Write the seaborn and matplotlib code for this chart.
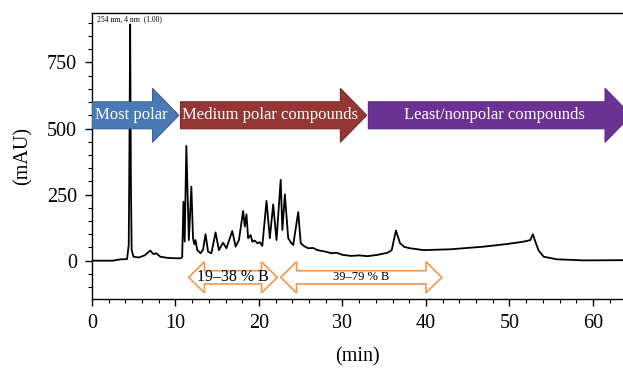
import numpy as np
import pandas as pd
import matplotlib
matplotlib.use('Agg')
import matplotlib.pyplot as plt
import matplotlib.patches as mpatches
from matplotlib.ticker import MultipleLocator
import seaborn as sns

# Chromatogram trace (time in min, absorbance in mAU)
time_min = [0.0, 2.5, 3.4, 4.2, 4.4, 4.48, 4.57, 4.66, 4.75, 4.97, 5.6, 6.3, 6.97, 7.2, 7.37,
            7.7, 8.0, 8.17, 8.97, 10.0, 10.6, 10.8, 10.95, 11.1, 11.3, 11.6, 11.9, 12.1, 12.25,
            12.4, 12.6, 13.0, 13.3, 13.6, 13.9, 14.3, 14.8, 15.2, 15.7, 16.1, 16.8, 17.2, 17.6,
            18.1, 18.3, 18.5, 18.7, 19.0, 19.2, 19.5, 19.8, 20.1, 20.4, 20.9, 21.3, 21.7, 22.1,
            22.6, 22.8, 23.1, 23.5, 23.8, 24.1, 24.7, 25.0, 25.4, 25.9, 26.5, 27.0, 27.5, 28.1,
            28.7, 29.3, 30.0, 31.0, 32.0, 33.0, 34.2, 35.4, 35.9, 36.4, 36.9, 37.4, 38.1, 39.7,
            42.9, 46.9, 49.7, 51.7, 52.5, 52.8, 53.1, 53.5, 54.1, 55.7, 57.5, 58.9, 64.0]
absorb_mau = [0, 0, 5, 6, 60, 400, 894, 300, 40, 15, 12, 20, 38, 30, 25,
              28, 20, 15, 11, 9, 9, 13, 223, 72, 434, 78, 280, 85, 62,
              78, 40, 28, 42, 100, 34, 28, 107, 40, 68, 47, 112, 53, 78,
              188, 129, 175, 85, 97, 72, 76, 66, 70, 56, 226, 85, 213, 78,
              306, 116, 251, 85, 70, 59, 184, 66, 55, 47, 48, 40, 37, 33,
              28, 30, 22, 18, 20, 17, 22, 30, 40, 114, 66, 52, 47, 40,
              43, 53, 63, 72, 78, 100, 72, 38, 15, 5, 3, 1, 2]

# Elution zones (block arrows): label, start, tip, colour
zone_labels = ['Most polar', 'Medium polar compounds', 'Least/nonpolar compounds']
zone_start = [0.0, 10.6, 33.1]
zone_tip = [10.4, 32.9, 64.6]
zone_text_x = [4.65, 21.3, 48.25]
zone_colors = ['#4a7ab5', '#943634', '#6b3294']
zone_edges = ['#3a6396', '#7a2a28', '#572880']

# Gradient ranges (double arrows)
grad_labels = ['19\u201338 % B', '39\u201379 % B']
grad_start = [11.57, 22.6]
grad_end = [22.2, 41.9]

df = pd.DataFrame({'time': time_min, 'mAU': absorb_mau})

plt.rcParams['font.family'] = ['Liberation Serif', 'DejaVu Serif']

fig = plt.figure(figsize=(6.23, 3.68), dpi=100)
ax = fig.add_axes([92 / 623, 69 / 368, 531 / 623, 286 / 368])

sns.lineplot(data=df, x='time', y='mAU', ax=ax, color='black', lw=1.3,
             estimator=None, sort=False)

ax.set_xlim(0, 63.6)
ax.set_ylim(-145, 937)
ax.xaxis.set_major_locator(MultipleLocator(10))
ax.xaxis.set_minor_locator(MultipleLocator(2))
ax.yaxis.set_major_locator(MultipleLocator(250))
ax.yaxis.set_minor_locator(MultipleLocator(50))
ax.tick_params(which='major', length=4.8, width=1, labelsize=14.5, direction='out', pad=6)
ax.tick_params(which='minor', length=3, width=0.8, direction='out')
for s in ['left', 'bottom', 'top']:
    ax.spines[s].set_linewidth(1.0)
ax.spines['right'].set_visible(False)
ax.set_xlabel('(min)', fontsize=14.5, labelpad=10)
ax.set_ylabel('(mAU)', fontsize=14.5, labelpad=10)

ax.text(0.6, 912, '254 nm, 4 nm  (1.00)', fontsize=5.5, va='center', ha='left')

# block arrows for polarity zones
yc = 550
for lab, x0, x1, xt, fc, ec in zip(zone_labels, zone_start, zone_tip, zone_text_x,
                                   zone_colors, zone_edges):
    arr = mpatches.FancyArrow(x0, yc, x1 - x0, 0, width=102, head_width=204,
                              head_length=3.15, length_includes_head=True,
                              fc=fc, ec=ec, lw=0.8, zorder=5)
    ax.add_patch(arr)
    ax.text(xt, yc, lab, color='white', fontsize=12, ha='center', va='center', zorder=6)


def double_arrow(x0, x1, y, body=50, head=118, hl=1.9):
    pts = [(x0, y), (x0 + hl, y + head / 2), (x0 + hl, y + body / 2),
           (x1 - hl, y + body / 2), (x1 - hl, y + head / 2), (x1, y),
           (x1 - hl, y - head / 2), (x1 - hl, y - body / 2), (x0 + hl, y - body / 2),
           (x0 + hl, y - head / 2)]
    return mpatches.Polygon(pts, closed=True, fc='white', ec='#f79646', lw=1.2, zorder=5)


yg = -63
for lab, x0, x1, fs in zip(grad_labels, grad_start, grad_end, [11.5, 9]):
    ax.add_patch(double_arrow(x0, x1, yg))
    ax.text((x0 + x1) / 2, yg, lab, fontsize=fs, ha='center', va='center', zorder=6)

fig.savefig('out.png', dpi=100)
